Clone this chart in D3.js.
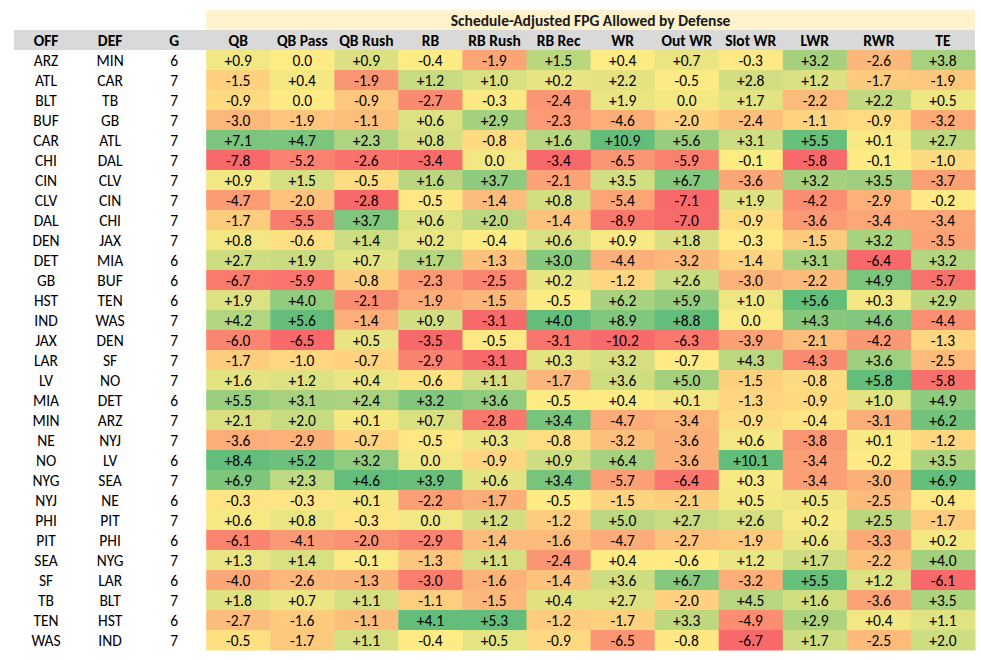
<!DOCTYPE html>
<html><head><meta charset="utf-8">
<script src="https://cdn.jsdelivr.net/npm/d3@7"></script>
<style>
html,body{margin:0;padding:0;background:#fff;}
svg{display:block;font-family:Carlito,Calibri,Lato,"Noto Sans",sans-serif;}
</style></head>
<body>
<svg id="chart" width="981" height="660"></svg>
<script>
const title = "Schedule-Adjusted FPG Allowed by Defense";
const offTeams = ["ARZ","ATL","BLT","BUF","CAR","CHI","CIN","CLV","DAL","DEN","DET","GB","HST","IND","JAX","LAR","LV","MIA","MIN","NE","NO","NYG","NYJ","PHI","PIT","SEA","SF","TB","TEN","WAS"];
const defTeams = ["MIN","CAR","TB","GB","ATL","DAL","CLV","CIN","CHI","JAX","MIA","BUF","TEN","WAS","DEN","SF","NO","DET","ARZ","NYJ","LV","SEA","NE","PIT","PHI","NYG","LAR","BLT","HST","IND"];
const games = [6,7,7,7,7,7,7,7,7,7,6,6,6,7,7,7,7,6,7,7,6,7,6,7,6,7,6,7,6,7];
const statColumns = ["QB","QB Pass","QB Rush","RB","RB Rush","RB Rec","WR","Out WR","Slot WR","LWR","RWR","TE"];
const qb      = [0.9,-1.5,-0.9,-3.0,7.1,-7.8,0.9,-4.7,-1.7,0.8,2.7,-6.7,1.9,4.2,-6.0,-1.7,1.6,5.5,2.1,-3.6,8.4,6.9,-0.3,0.6,-6.1,1.3,-4.0,1.8,-2.7,-0.5];
const qbPass  = [0.0,0.4,0.0,-1.9,4.7,-5.2,1.5,-2.0,-5.5,-0.6,1.9,-5.9,4.0,5.6,-6.5,-1.0,1.2,3.1,2.0,-2.9,5.2,2.3,-0.3,0.8,-4.1,1.4,-2.6,0.7,-1.6,-1.7];
const qbRush  = [0.9,-1.9,-0.9,-1.1,2.3,-2.6,-0.5,-2.8,3.7,1.4,0.7,-0.8,-2.1,-1.4,0.5,-0.7,0.4,2.4,0.1,-0.7,3.2,4.6,0.1,-0.3,-2.0,-0.1,-1.3,1.1,-1.1,1.1];
const rb      = [-0.4,1.2,-2.7,0.6,0.8,-3.4,1.6,-0.5,0.6,0.2,1.7,-2.3,-1.9,0.9,-3.5,-2.9,-0.6,3.2,0.7,-0.5,0.0,3.9,-2.2,0.0,-2.9,-1.3,-3.0,-1.1,4.1,-0.4];
const rbRush  = [-1.9,1.0,-0.3,2.9,-0.8,0.0,3.7,-1.4,2.0,-0.4,-1.3,-2.5,-1.5,-3.1,-0.5,-3.1,1.1,3.6,-2.8,0.3,-0.9,0.6,-1.7,1.2,-1.4,1.1,-1.6,-1.5,5.3,0.5];
const rbRec   = [1.5,0.2,-2.4,-2.3,1.6,-3.4,-2.1,0.8,-1.4,0.6,3.0,0.2,-0.5,4.0,-3.1,0.3,-1.7,-0.5,3.4,-0.8,0.9,3.4,-0.5,-1.2,-1.6,-2.4,-1.4,0.4,-1.2,-0.9];
const wr      = [0.4,2.2,1.9,-4.6,10.9,-6.5,3.5,-5.4,-8.9,0.9,-4.4,-1.2,6.2,8.9,-10.2,3.2,3.6,0.4,-4.7,-3.2,6.4,-5.7,-1.5,5.0,-4.7,0.4,3.6,2.7,-1.7,-6.5];
const outWr   = [0.7,-0.5,0.0,-2.0,5.6,-5.9,6.7,-7.1,-7.0,1.8,-3.2,2.6,5.9,8.8,-6.3,-0.7,5.0,0.1,-3.4,-3.6,-3.6,-6.4,-2.1,2.7,-2.7,-0.6,6.7,-2.0,3.3,-0.8];
const slotWr  = [-0.3,2.8,1.7,-2.4,3.1,-0.1,-3.6,1.9,-0.9,-0.3,-1.4,-3.0,1.0,0.0,-3.9,4.3,-1.5,-1.3,-0.9,0.6,10.1,0.3,0.5,2.6,-1.9,1.2,-3.2,4.5,-4.9,-6.7];
const lwr     = [3.2,1.2,-2.2,-1.1,5.5,-5.8,3.2,-4.2,-3.6,-1.5,3.1,-2.2,5.6,4.3,-2.1,-4.3,-0.8,-0.9,-0.4,-3.8,-3.4,-3.4,0.5,0.2,0.6,1.7,5.5,1.6,2.9,1.7];
const rwr     = [-2.6,-1.7,2.2,-0.9,0.1,-0.1,3.5,-2.9,-3.4,3.2,-6.4,4.9,0.3,4.6,-4.2,3.6,5.8,1.0,-3.1,0.1,-0.2,-3.0,-2.5,2.5,-3.3,-2.2,1.2,-3.6,0.4,-2.5];
const te      = [3.8,-1.9,0.5,-3.2,2.7,-1.0,-3.7,-0.2,-3.4,-3.5,3.2,-5.7,2.9,-4.4,-1.3,-2.5,-5.8,4.9,6.2,-1.2,3.5,6.9,-0.4,-1.7,0.2,4.0,-6.1,3.5,1.1,2.0];
const statValues = [qb,qbPass,qbRush,rb,rbRush,rbRec,wr,outWr,slotWr,lwr,rwr,te];
const idColumns = ["OFF","DEF","G"];
const idValues = [offTeams,defTeams,games];

const svg = d3.select("#chart");
const allCols = idColumns.concat(statColumns);
const x = d3.scaleBand().domain(allCols).range([14,975]);
const rowIdx = d3.range(offTeams.length);
const y = d3.scaleBand().domain(rowIdx).range([50,650]);
const headTop = 30, titleTop = 10;
const fs = 15.5;
const dy = "0.38em";

// title band
svg.append("rect").attr("x",x(statColumns[0])).attr("y",titleTop)
  .attr("width",x.range()[1]-x(statColumns[0])).attr("height",headTop-titleTop).attr("fill","#FFF2CC");
svg.append("text").attr("x",(x(statColumns[0])+x.range()[1])/2).attr("y",(titleTop+headTop)/2)
  .attr("dy",dy).attr("text-anchor","middle").attr("font-weight","bold").attr("font-size",fs)
  .attr("fill","#1a1a1a").text(title);

// header row
svg.append("rect").attr("x",x.range()[0]).attr("y",headTop).attr("width",x.range()[1]-x.range()[0])
  .attr("height",y.range()[0]-headTop).attr("fill","#D9D9D9");
svg.selectAll("text.hdr").data(allCols).join("text").attr("class","hdr")
  .attr("x",d=>x(d)+x.bandwidth()/2).attr("y",(headTop+y.range()[0])/2).attr("dy",dy)
  .attr("text-anchor","middle").attr("font-weight","bold").attr("font-size",fs).attr("fill","#000").text(d=>d);

// id columns
idColumns.forEach((c,ci)=>{
  svg.append("g").selectAll("text").data(idValues[ci]).join("text")
    .attr("x",x(c)+x.bandwidth()/2).attr("y",(d,i)=>y(i)+y.bandwidth()/2).attr("dy",dy)
    .attr("text-anchor","middle").attr("font-size",fs).attr("fill","#000").text(d=>d);
});

// stat columns
const fmt = v => v>0 ? "+"+v.toFixed(1) : (v===0 ? "0.0" : v.toFixed(1));
statColumns.forEach((c,ci)=>{
  const vals = statValues[ci];
  const sorted = vals.slice().sort(d3.ascending);
  const color = d3.scaleLinear()
    .domain([d3.min(vals), d3.quantile(sorted,0.5), d3.max(vals)])
    .range(["#F8696B","#FFEB84","#63BE7B"]).interpolate(d3.interpolateRgb);
  const g = svg.append("g");
  g.selectAll("rect").data(vals).join("rect")
    .attr("x",x(c)).attr("y",(d,i)=>y(i)).attr("width",x.bandwidth()+0.5).attr("height",y.bandwidth()+0.5)
    .attr("fill",d=>color(d));
  g.selectAll("text").data(vals).join("text")
    .attr("x",x(c)+x.bandwidth()/2).attr("y",(d,i)=>y(i)+y.bandwidth()/2).attr("dy",dy)
    .attr("text-anchor","middle").attr("font-size",fs).attr("fill","#000").text(d=>fmt(d));
});
</script>
</body></html>
